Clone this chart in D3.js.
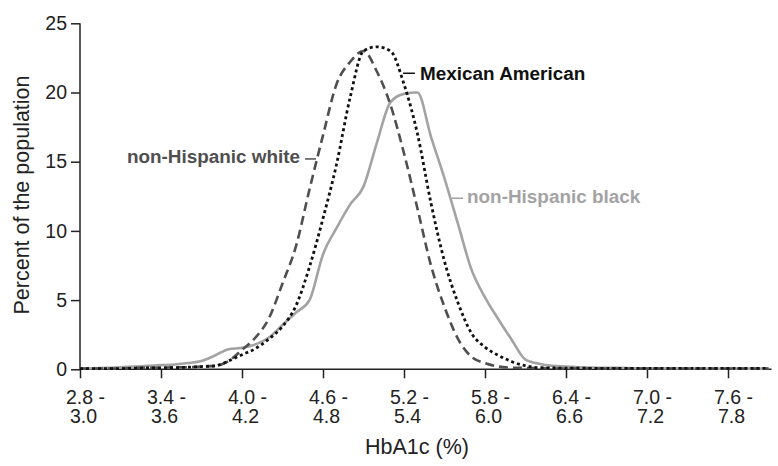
<!DOCTYPE html>
<html>
<head>
<meta charset="utf-8">
<script src="https://cdn.jsdelivr.net/npm/d3@7"></script>
<style>
  html, body { margin: 0; padding: 0; background: #fff; }
  svg { display: block; }
  text { font-family: "Liberation Sans", Arial, Helvetica, sans-serif; }
</style>
</head>
<body>
<svg id="chart" width="778" height="466"></svg>
<script>
// HbA1c categories (0.2-wide ranges, stepped by 0.1)
const binStarts = [2.8, 2.9, 3.0, 3.1, 3.2, 3.3, 3.4, 3.5, 3.6, 3.7, 3.8, 3.9, 4.0, 4.1, 4.2, 4.3,
                   4.4, 4.5, 4.6, 4.7, 4.8, 4.9, 5.0, 5.1, 5.2, 5.3, 5.4, 5.5, 5.6, 5.7, 5.8, 5.9,
                   6.0, 6.1, 6.2, 6.3, 6.4, 6.5, 6.6, 6.7, 6.8, 6.9, 7.0, 7.1, 7.2, 7.3, 7.4, 7.5,
                   7.6, 7.7, 7.8, 7.9];
const categories = binStarts.map(v => v.toFixed(1) + " - " + (v + 0.2).toFixed(1));
const tickLabels = ["2.8 - 3.0", "3.4 - 3.6", "4.0 - 4.2", "4.6 - 4.8", "5.2 - 5.4",
                    "5.8 - 6.0", "6.4 - 6.6", "7.0 - 7.2", "7.6 - 7.8"];
const yTicks = [0, 5, 10, 15, 20, 25];

// Percent of the population
const nhWhite = [0.05, 0.05, 0.05, 0.05, 0.1, 0.1, 0.1, 0.15, 0.15, 0.2, 0.25, 0.6, 1.4, 2.3, 3.7, 6.2,
                 8.9, 13.0, 16.9, 20.6, 22.2, 23.0, 21.5, 19.1, 15.6, 11.6, 7.5, 4.5, 2.2, 0.9, 0.45, 0.2,
                 0.12, 0.1, 0.08, 0.06, 0.05, 0.05, 0.05, 0.05, 0.05, 0.05, 0.05, 0.05, 0.05, 0.05, 0.05, 0.05,
                 0.05, 0.05, 0.05, 0.05];
const mexAm   = [0.05, 0.05, 0.05, 0.05, 0.08, 0.1, 0.1, 0.12, 0.15, 0.2, 0.25, 0.6, 1.05, 1.5, 2.2, 3.1,
                 4.6, 7.4, 10.9, 14.8, 19.6, 23.0, 23.3, 23.0, 20.6, 17.0, 12.0, 7.8, 4.8, 2.6, 1.6, 1.0,
                 0.55, 0.25, 0.12, 0.1, 0.08, 0.08, 0.07, 0.07, 0.07, 0.07, 0.07, 0.07, 0.07, 0.07, 0.07, 0.07,
                 0.07, 0.07, 0.07, 0.07];
const nhBlack = [0.05, 0.08, 0.1, 0.15, 0.2, 0.25, 0.3, 0.35, 0.45, 0.6, 1.0, 1.45, 1.55, 1.8, 2.3, 3.2,
                 4.1, 5.0, 8.3, 10.2, 11.9, 13.2, 16.4, 19.3, 19.9, 20.0, 16.8, 13.8, 10.5, 7.2, 5.2, 3.6,
                 2.1, 0.7, 0.4, 0.25, 0.2, 0.15, 0.12, 0.1, 0.1, 0.08, 0.08, 0.07, 0.07, 0.06, 0.06, 0.05,
                 0.05, 0.05, 0.05, 0.05];

const seriesNames = ["non-Hispanic white", "Mexican American", "non-Hispanic black"];

const svg = d3.select("#chart");
const mLeft = 80, mTop = 23.3, mBottom = 369.3;

const x = d3.scalePoint().domain(categories).range([mLeft, mLeft + 13.5 * (categories.length - 1)]);
const xv = d3.scaleLinear().domain([2.8, 7.9]).range([mLeft, mLeft + 13.5 * (categories.length - 1)]);
const y = d3.scaleLinear().domain([0, 25]).range([mBottom, mTop]);

// Y axis
const yAxis = svg.append("g").attr("transform", `translate(${mLeft},0)`)
  .call(d3.axisLeft(y).tickValues(yTicks).tickSize(9).tickPadding(4));
yAxis.select(".domain").attr("stroke", "#222").attr("stroke-width", 1.5).attr("d", `M0,${y(25)}V${y(0)}`);
yAxis.selectAll(".tick line").attr("stroke", "#222").attr("stroke-width", 1.5);
yAxis.selectAll(".tick text").attr("font-size", 19.5).attr("fill", "#222")
  .attr("font-family", '"Liberation Sans", Arial, sans-serif');

// X axis
const xAxis = svg.append("g").attr("transform", `translate(0,${mBottom})`)
  .call(d3.axisBottom(x).tickValues(tickLabels).tickSize(9).tickFormat(() => ""));
xAxis.select(".domain").attr("stroke", "#222").attr("stroke-width", 1.5)
  .attr("d", `M${mLeft},0H${x(categories[categories.length - 1]) + 3}`);
xAxis.selectAll(".tick line").attr("stroke", "#222").attr("stroke-width", 1.5);
xAxis.selectAll(".tick").each(function(d) {
  const parts = d.split(" - ");
  const g = d3.select(this);
  g.append("text").attr("fill", "#222").attr("font-size", 19.5).attr("text-anchor", "middle")
    .attr("x", 5).attr("y", 35).text(parts[0] + " -");
  g.append("text").attr("fill", "#222").attr("font-size", 19.5).attr("text-anchor", "middle")
    .attr("x", 3).attr("y", 53.5).text(parts[1]);
});

// Axis titles
svg.append("text").attr("x", 417).attr("y", 454).attr("text-anchor", "middle")
  .attr("font-size", 21.5).attr("fill", "#222").text("HbA1c (%)");
svg.append("text").attr("transform", `translate(29,195) rotate(-90)`)
  .attr("text-anchor", "middle").attr("font-size", 21.5).attr("fill", "#222")
  .text("Percent of the population");

// Lines
const line = d3.line().x((d, i) => x(categories[i])).y(d => y(d)).curve(d3.curveMonotoneX);

svg.append("path").datum(nhBlack).attr("d", line).attr("fill", "none")
  .attr("stroke", "#a3a3a3").attr("stroke-width", 2.6).attr("stroke-linejoin", "round");
svg.append("path").datum(nhWhite).attr("d", line).attr("fill", "none")
  .attr("stroke", "#4f4f4f").attr("stroke-width", 2.6).attr("stroke-dasharray", "9,5");
svg.append("path").datum(mexAm).attr("d", line).attr("fill", "none")
  .attr("stroke", "#111").attr("stroke-width", 2.8).attr("stroke-dasharray", "3,3");

// Annotations
function annot(name, color, x1, x2, ly, tx, ty, anchor) {
  svg.append("line").attr("x1", xv(x1)).attr("x2", xv(x2)).attr("y1", y(ly)).attr("y2", y(ly))
    .attr("stroke", color).attr("stroke-width", 1.5);
  svg.append("text").attr("x", xv(tx)).attr("y", y(ty)).attr("text-anchor", anchor)
    .attr("font-size", 18.9).attr("font-weight", "bold").attr("fill", color).text(name);
}
annot(seriesNames[0], "#4f4f4f", 4.467, 4.548, 15.2, 4.43, 14.94, "end");
annot(seriesNames[1], "#111", 5.193, 5.281, 21.39, 5.319, 20.9, "start");
annot(seriesNames[2], "#a3a3a3", 5.556, 5.637, 12.36, 5.667, 12.0, "start");
</script>
</body>
</html>
